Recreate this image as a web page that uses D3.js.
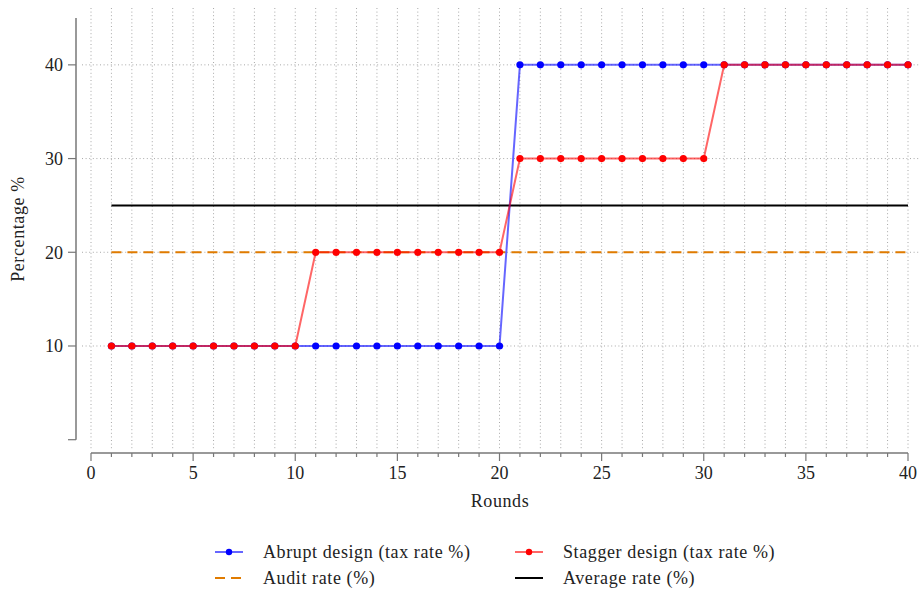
<!DOCTYPE html>
<html>
<head>
<meta charset="utf-8">
<script src="https://cdn.jsdelivr.net/npm/d3@7"></script>
<style>
  body { margin: 0; background: #fff; }
  text { font-family: "Liberation Serif", "DejaVu Serif", serif; fill: #222; letter-spacing: 0.6px; }
</style>
</head>
<body>
<div id="chart"></div>
<script>
// data
var rounds = d3.range(1, 41);
var abrupt = [10,10,10,10,10,10,10,10,10,10,10,10,10,10,10,10,10,10,10,10,
              40,40,40,40,40,40,40,40,40,40,40,40,40,40,40,40,40,40,40,40];
var stagger = [10,10,10,10,10,10,10,10,10,10,20,20,20,20,20,20,20,20,20,20,
               30,30,30,30,30,30,30,30,30,30,40,40,40,40,40,40,40,40,40,40];
var auditRate = 20;
var averageRate = 25;
var xTicks = [0, 5, 10, 15, 20, 25, 30, 35, 40];
var yTicks = [10, 20, 30, 40];

var W = 920, H = 594;
var svg = d3.select('#chart').append('svg')
    .attr('width', W).attr('height', H);

var x = d3.scaleLinear().domain([0, 40]).range([91, 908]);
var y = d3.scaleLinear().domain([0, 45]).range([439.7, 18]);

// dotted grid
var grid = svg.append('g')
    .attr('stroke', '#a8a8a8')
    .attr('stroke-width', 1)
    .attr('stroke-dasharray', '1,2.6');

grid.selectAll('.vg').data(d3.range(0, 41))
    .enter().append('line')
    .attr('x1', function (d) { return x(d); })
    .attr('x2', function (d) { return x(d); })
    .attr('y1', 8).attr('y2', 449);

grid.selectAll('.hg').data(yTicks)
    .enter().append('line')
    .attr('x1', 82).attr('x2', 920)
    .attr('y1', function (d) { return y(d); })
    .attr('y2', function (d) { return y(d); });

// x axis (ticks below)
var xAxis = svg.append('g').attr('transform', 'translate(0,453)');
xAxis.append('line').attr('x1', x(0)).attr('x2', x(40))
    .attr('stroke', '#777').attr('stroke-width', 1.5);
xAxis.selectAll('.xt').data(d3.range(0, 41))
    .enter().append('line')
    .attr('x1', function (d) { return x(d); })
    .attr('x2', function (d) { return x(d); })
    .attr('y1', 0)
    .attr('y2', function (d) { return d % 5 === 0 ? 8 : 4; })
    .attr('stroke', '#777').attr('stroke-width', 1.2);
xAxis.selectAll('.xl').data(xTicks)
    .enter().append('text')
    .attr('x', function (d) { return x(d); })
    .attr('y', 26)
    .attr('text-anchor', 'middle')
    .attr('font-size', 18)
    .style('letter-spacing', '0px')
    .text(function (d) { return d; });
svg.append('text').attr('x', 500).attr('y', 507)
    .attr('text-anchor', 'middle').attr('font-size', 18)
    .text('Rounds');

// y axis (ticks left)
var yAxis = svg.append('g').attr('transform', 'translate(76,0)');
yAxis.append('line').attr('x1', 0).attr('x2', 0)
    .attr('y1', y(45)).attr('y2', y(0))
    .attr('stroke', '#777').attr('stroke-width', 1.5);
yAxis.selectAll('.yt').data([0].concat(yTicks))
    .enter().append('line')
    .attr('x1', -8).attr('x2', 0)
    .attr('y1', function (d) { return y(d); })
    .attr('y2', function (d) { return y(d); })
    .attr('stroke', '#777').attr('stroke-width', 1.2);
yAxis.selectAll('.yl').data(yTicks)
    .enter().append('text')
    .attr('x', -13)
    .attr('y', function (d) { return y(d); })
    .attr('dy', '0.35em')
    .attr('text-anchor', 'end')
    .attr('font-size', 18)
    .style('letter-spacing', '0px')
    .text(function (d) { return d; });
svg.append('text')
    .attr('transform', 'translate(24,' + 229 + ') rotate(-90)')
    .attr('text-anchor', 'middle').attr('font-size', 18)
    .text('Percentage %');

// reference lines
svg.append('line')
    .attr('x1', x(1)).attr('x2', x(40))
    .attr('y1', y(auditRate)).attr('y2', y(auditRate))
    .attr('stroke', '#e07b00').attr('stroke-width', 2)
    .attr('stroke-dasharray', '10,6');
svg.append('line')
    .attr('x1', x(1)).attr('x2', x(40))
    .attr('y1', y(averageRate)).attr('y2', y(averageRate))
    .attr('stroke', '#000').attr('stroke-width', 2);

// series
var line = d3.line()
    .x(function (d, i) { return x(rounds[i]); })
    .y(function (d) { return y(d); });

function drawSeries(vals, lineCol, dotCol) {
    var g = svg.append('g');
    g.append('path').datum(vals)
        .attr('d', line)
        .attr('fill', 'none')
        .attr('stroke', lineCol)
        .attr('stroke-opacity', 0.6)
        .attr('stroke-width', 2);
    g.selectAll('circle').data(vals)
        .enter().append('circle')
        .attr('cx', function (d, i) { return x(rounds[i]); })
        .attr('cy', function (d) { return y(d); })
        .attr('r', 3.6)
        .attr('fill', dotCol);
}
drawSeries(abrupt, '#0000ff', '#0000ff');
drawSeries(stagger, '#ff0000', '#ff0000');

// legend
var legend = [
    {label: 'Abrupt design (tax rate %)', col: '#0000ff', dot: true, dash: null, op: 0.6, lx: 215, ly: 552},
    {label: 'Stagger design (tax rate %)', col: '#ff0000', dot: true, dash: null, op: 0.6, lx: 515, ly: 552},
    {label: 'Audit rate (%)', col: '#e07b00', dot: false, dash: '10,6', op: 1, lx: 215, ly: 578},
    {label: 'Average rate (%)', col: '#000', dot: false, dash: null, op: 1, lx: 515, ly: 578}
];
var lg = svg.selectAll('.lg').data(legend).enter().append('g')
    .attr('transform', function (d) { return 'translate(' + d.lx + ',' + d.ly + ')'; });
lg.append('line')
    .attr('x1', 0).attr('x2', 28).attr('y1', 0).attr('y2', 0)
    .attr('stroke', function (d) { return d.col; })
    .attr('stroke-opacity', function (d) { return d.op; })
    .attr('stroke-width', 2)
    .attr('stroke-dasharray', function (d) { return d.dash; });
lg.filter(function (d) { return d.dot; }).append('circle')
    .attr('cx', 14).attr('cy', 0).attr('r', 3.2)
    .attr('fill', function (d) { return d.col; });
lg.append('text')
    .attr('x', 48).attr('y', 0).attr('dy', '0.35em')
    .attr('font-size', 18)
    .text(function (d) { return d.label; });
</script>
</body>
</html>
